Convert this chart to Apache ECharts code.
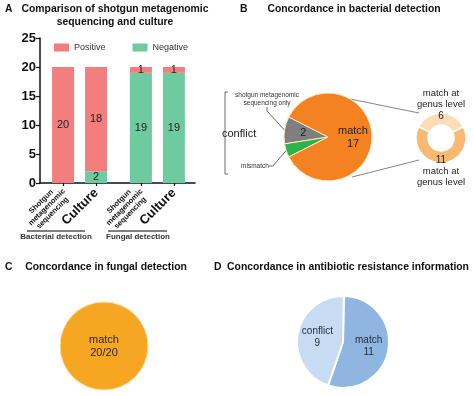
<!DOCTYPE html>
<html>
<head>
<meta charset="utf-8">
<script src="https://cdn.jsdelivr.net/npm/echarts@6/dist/echarts.min.js"></script>
<style>
  html, body { margin: 0; padding: 0; background: #fff; }
  #chart { width: 474px; height: 396px; }
</style>
</head>
<body>
<div id="chart"></div>
<script>
// A: shotgun vs culture
const methods = ['Shotgun metagenomic sequencing', 'Culture', 'Shotgun metagenomic sequencing', 'Culture']
const groups = ['Bacterial detection', 'Fungal detection']
const positive = [20, 18, 1, 1]
const negative = [0, 2, 19, 19]
const yTicks = [0, 5, 10, 15, 20, 25]
// B: bacterial detection
const bactNames = ['shotgun metagenomic sequencing only', 'mismatch', 'match']
const bactValues = [2, 1, 17]
const genusNames = ['match at genus level', 'match at genus level']
const genusValues = [6, 11]
// C: fungal detection
const fungalNames = ['match']
const fungalValues = [20]
// D: antibiotic resistance
const resistNames = ['match', 'conflict']
const resistValues = [11, 9]

// bar slots on the x axis (two groups with a gap)
const barX = [0.7, 1.7, 3.06, 4.06]
const genusCenter = [441, 138]
const genusRadius = [13, 25]
const bactColors = ['#7f7f7f', '#2eb34b', '#f58220']
const genusColors = ['#fddcb8', '#f8ba72']
const fungalColors = ['#f6a623']
const resistColors = ['#8fb5e1', '#c7dbf2']
const font = 'Liberation Sans, Arial, sans-serif'

const chart = echarts.init(document.getElementById('chart'))

function slot(v) {
  return barX.findIndex(p => Math.abs(p - v) < 1e-6)
}

const titleStyle = { fontFamily: font, fontSize: 10.4, fontWeight: 'bold', color: '#111', lineHeight: 13 }
function title(text, left, top, align) {
  return { text: text, left: left, top: top, padding: 0, textAlign: align, textStyle: titleStyle }
}

// pie items get explicit colours (pie colours are keyed by name otherwise)
function pieData(names, values, colors) {
  return names.map((n, i) => ({ name: n, value: values[i], itemStyle: colors ? { color: colors[i] } : undefined }))
}

const fungalTotal = fungalValues.reduce((a, b) => a + b, 0)

// value first so that the stack runs along y
function barData(vals) {
  return barX.map((x, i) => [vals[i], x])
}
const barLabel = {
  show: true, position: 'inside', fontFamily: font, fontSize: 11, color: '#222',
  formatter: p => (p.value[0] > 0 ? p.value[0] : '')
}

chart.setOption({
  animation: false,
  title: [
    title('A', 5, 3),
    title('Comparison of shotgun metagenomic\nsequencing and culture', 115, 3, 'center'),
    title('B', 240, 3),
    title('Concordance in bacterial detection', 354, 3, 'center'),
    title('C', 5, 261),
    title('Concordance in fungal detection', 106, 261, 'center'),
    title('D', 214, 261),
    title('Concordance in antibiotic resistance information', 348, 261, 'center')
  ],
  legend: {
    data: ['Positive', 'Negative'],
    left: 54,
    top: 43,
    padding: 0,
    icon: 'rect',
    itemWidth: 15,
    itemHeight: 8,
    itemGap: 27,
    textStyle: { fontFamily: font, fontSize: 9, color: '#333' }
  },
  grid: { left: 40, top: 38, width: 155, height: 145 },
  xAxis: {
    type: 'value',
    min: 0,
    max: 4.7,
    splitLine: { show: false },
    axisLine: { lineStyle: { color: '#111', width: 1.5 } },
    axisTick: { customValues: barX, length: 3, lineStyle: { color: '#111', width: 1.2 } },
    axisLabel: {
      customValues: barX,
      rotate: 45,
      align: 'center',
      margin: 8,
      formatter: function (v) {
        const name = methods[slot(v)] || ''
        if (name === 'Culture') return '{c|Culture}'
        return name.split(' ').map(w => '{s|' + w + '}').join('\n')
      },
      rich: {
        s: { fontFamily: font, fontSize: 7.5, fontWeight: 'bold', color: '#111', lineHeight: 8, padding: [0, 46, 0, 0] },
        c: { fontFamily: font, fontSize: 13, fontWeight: 'bold', color: '#111', padding: [0, 45, 0, 0] }
      }
    }
  },
  yAxis: {
    type: 'value',
    min: yTicks[0],
    max: yTicks[yTicks.length - 1],
    interval: yTicks[1] - yTicks[0],
    splitLine: { show: false },
    axisLine: { show: true, lineStyle: { color: '#111', width: 1.5 } },
    axisTick: { show: true, length: 4, lineStyle: { color: '#111', width: 1.2 } },
    axisLabel: { fontFamily: font, fontSize: 13, fontWeight: 'bold', color: '#111', margin: 4 }
  },
  series: [
    {
      name: 'Negative',
      type: 'bar',
      stack: 'total',
      barWidth: 22,
      encode: { x: 1, y: 0 },
      itemStyle: { color: '#6ecba0' },
      label: barLabel,
      data: barData(negative)
    },
    {
      name: 'Positive',
      type: 'bar',
      stack: 'total',
      barWidth: 22,
      encode: { x: 1, y: 0 },
      itemStyle: { color: '#f37e7e' },
      label: barLabel,
      data: barData(positive)
    },
    {
      name: 'bacterial',
      type: 'pie',
      center: [328, 137],
      radius: 44,
      startAngle: 153,
      clockwise: false,
      silent: true,
      itemStyle: { borderColor: '#fdebc8', borderWidth: 1 },
      label: {
        position: 'inside', fontFamily: font, fontSize: 11, color: '#222', lineHeight: 13,
        formatter: p => (p.name === 'match' ? 'match\n' + p.value : p.value)
      },
      data: pieData(bactNames, bactValues, bactColors)
    },
    {
      name: 'bacterial notes',
      type: 'pie',
      center: [328, 137],
      radius: 44,
      startAngle: 153,
      clockwise: false,
      silent: true,
      avoidLabelOverlap: false,
      itemStyle: { color: 'rgba(0,0,0,0)' },
      label: {
        position: 'outside', fontFamily: font, fontSize: 6.5, color: '#333', lineHeight: 8,
        formatter: p => p.name.replace(' sequencing', '\nsequencing')
      },
      labelLine: { show: true, length: 6, length2: 4, lineStyle: { color: '#444', width: 0.8 } },
      labelLayout: function (p) {
        if (p.dataIndex === 0) return { x: 267, y: 99, align: 'center', verticalAlign: 'middle' }
        if (p.dataIndex === 1) return { x: 255, y: 166, align: 'center', verticalAlign: 'middle' }
      },
      data: bactNames.map((n, i) => ({
        name: n,
        value: bactValues[i],
        label: { show: n !== 'match' },
        labelLine: { show: n !== 'match' }
      }))
    },
    {
      name: 'genus',
      type: 'pie',
      center: genusCenter,
      radius: genusRadius,
      startAngle: 153.5,
      silent: true,
      itemStyle: { borderColor: '#fff', borderWidth: 1.5 },
      label: { position: 'inside', fontFamily: font, fontSize: 10, color: '#222', formatter: '{c}' },
      data: pieData(genusNames, genusValues, genusColors)
    },
    {
      name: 'genus notes',
      type: 'pie',
      center: genusCenter,
      radius: genusRadius,
      startAngle: 153.5,
      silent: true,
      avoidLabelOverlap: false,
      itemStyle: { color: 'rgba(0,0,0,0)' },
      label: {
        position: 'outside', fontFamily: font, fontSize: 9.5, color: '#222', lineHeight: 11,
        formatter: p => p.name.replace(' genus', '\ngenus')
      },
      labelLine: { show: false },
      labelLayout: function (p) {
        const off = genusRadius[1] + 14
        const y = p.dataIndex === 0 ? genusCenter[1] - off : genusCenter[1] + off
        return { x: genusCenter[0], y: y, align: 'center', verticalAlign: 'middle' }
      },
      data: pieData(genusNames, genusValues)
    },
    {
      name: 'fungal',
      type: 'pie',
      center: [104, 346],
      radius: 44,
      silent: true,
      itemStyle: { borderColor: '#fde3a6', borderWidth: 1 },
      label: {
        position: 'center', fontFamily: font, fontSize: 11, color: '#2a2a2a', lineHeight: 13,
        formatter: p => p.name + '\n' + p.value + '/' + fungalTotal
      },
      data: pieData(fungalNames, fungalValues, fungalColors)
    },
    {
      name: 'resistance',
      type: 'pie',
      center: [343, 342],
      radius: 46,
      startAngle: 89,
      silent: true,
      itemStyle: { borderColor: '#fff', borderWidth: 2 },
      label: {
        position: 'inside', fontFamily: font, fontSize: 10, color: '#1f2b3a', lineHeight: 12,
        formatter: p => p.name + '\n' + p.value
      },
      data: pieData(resistNames, resistValues, resistColors)
    }
  ],
  graphic: [
    // group brackets under panel A
    { type: 'line', shape: { x1: 27, y1: 231, x2: 85, y2: 231 }, style: { stroke: '#555', lineWidth: 1.5 } },
    { type: 'line', shape: { x1: 108, y1: 231, x2: 167, y2: 231 }, style: { stroke: '#555', lineWidth: 1.5 } },
    { type: 'text', x: 56, y: 237, style: { text: groups[0], font: 'bold 8px ' + font, fill: '#333', align: 'center', verticalAlign: 'middle' } },
    { type: 'text', x: 138, y: 237, style: { text: groups[1], font: 'bold 8px ' + font, fill: '#333', align: 'center', verticalAlign: 'middle' } },
    // conflict brace in panel B
    { type: 'polyline', shape: { points: [[228, 92], [225, 92], [225, 174], [228, 174]] }, style: { stroke: '#444', lineWidth: 0.8, fill: null } },
    { type: 'text', x: 222, y: 134, style: { text: 'conflict', font: '11px ' + font, fill: '#222', align: 'left', verticalAlign: 'middle' } },
    // connectors from main pie to the genus donut
    { type: 'line', shape: { x1: 350, y1: 99, x2: 419, y2: 113 }, style: { stroke: '#666', lineWidth: 0.8 } },
    { type: 'line', shape: { x1: 352, y1: 177, x2: 419, y2: 160 }, style: { stroke: '#666', lineWidth: 0.8 } }
  ]
})
</script>
</body>
</html>
